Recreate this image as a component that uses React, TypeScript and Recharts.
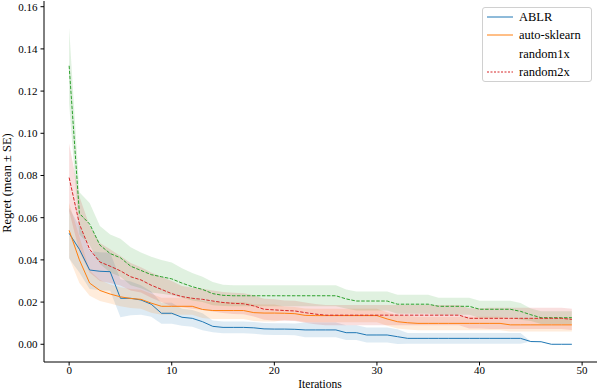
import React from 'react';
import { ComposedChart, Line, Area, XAxis, YAxis, Label } from 'recharts';

// iterations 0..49
const iterations: number[] = Array.from({ length: 50 }, (_, i) => i);

// ABLR mean regret and standard error
const ablr = [
  0.0526, 0.045, 0.0352, 0.0346, 0.0344, 0.0218, 0.0218, 0.021, 0.019, 0.0147,
  0.0147, 0.0128, 0.0123, 0.0107, 0.0085, 0.008, 0.008, 0.008, 0.0078, 0.0073,
  0.0072, 0.0072, 0.0071, 0.0068, 0.0068, 0.0068, 0.0068, 0.0055, 0.0055, 0.0044,
  0.0044, 0.0044, 0.0036, 0.0028, 0.0028, 0.0028, 0.0028, 0.0028, 0.0028, 0.0028,
  0.0028, 0.0028, 0.0028, 0.0028, 0.0028, 0.0013, 0.0012, 0.0, 0.0, 0.0,
];
const ablrSe = [
  0.012, 0.011, 0.009, 0.009, 0.009, 0.009, 0.008, 0.007, 0.006, 0.005,
  0.005, 0.004, 0.004, 0.004, 0.0028, 0.0028, 0.0028, 0.0028, 0.0028, 0.0028,
  0.0028, 0.0028, 0.0028, 0.0035, 0.0035, 0.0035, 0.0035, 0.0035, 0.0035, 0.0035,
  0.0035, 0.0035, 0.0035, 0.0025, 0.0025, 0.0025, 0.0025, 0.0025, 0.0025, 0.0025,
  0.0025, 0.0025, 0.0025, 0.0025, 0.0025, 0, 0, 0, 0, 0,
];

// auto-sklearn
const autoSklearn = [
  0.054, 0.04, 0.029, 0.0255, 0.0238, 0.0225, 0.0217, 0.0213, 0.0195, 0.018,
  0.018, 0.018, 0.018, 0.0165, 0.016, 0.016, 0.016, 0.016, 0.015, 0.0148,
  0.0148, 0.0147, 0.0145, 0.0137, 0.0136, 0.0136, 0.0136, 0.0136, 0.0136, 0.0136,
  0.0136, 0.012, 0.0107, 0.0102, 0.0099, 0.0099, 0.0099, 0.0099, 0.0099, 0.0099,
  0.0099, 0.0099, 0.0099, 0.0092, 0.0092, 0.0092, 0.0092, 0.0092, 0.0092, 0.0092,
];
const autoSklearnSe = [
  0.013, 0.011, 0.006, 0.005, 0.0045, 0.0045, 0.0045, 0.0045, 0.0045, 0.004,
  0.004, 0.004, 0.004, 0.004, 0.004, 0.004, 0.004, 0.004, 0.004, 0.004,
  0.004, 0.0032, 0.0032, 0.0032, 0.0032, 0.0032, 0.0032, 0.0032, 0.0032, 0.0032,
  0.0032, 0.0032, 0.0032, 0.0032, 0.0032, 0.0032, 0.0032, 0.0032, 0.0032, 0.0032,
  0.0032, 0.0032, 0.0032, 0.0032, 0.0032, 0.0032, 0.0032, 0.0032, 0.0032, 0.0032,
];

// random1x
const random1x = [
  0.132, 0.062, 0.057, 0.047, 0.043, 0.041, 0.037, 0.035, 0.033, 0.032,
  0.031, 0.029, 0.0273, 0.026, 0.024, 0.0232, 0.023, 0.023, 0.023, 0.023,
  0.023, 0.023, 0.023, 0.023, 0.023, 0.023, 0.023, 0.0215, 0.0205, 0.0205,
  0.0205, 0.0205, 0.019, 0.019, 0.019, 0.019, 0.018, 0.018, 0.018, 0.018,
  0.0166, 0.0166, 0.0166, 0.0166, 0.0156, 0.014, 0.0126, 0.0126, 0.0126, 0.0126,
];
const random1xSe = [
  0.018, 0.01, 0.01, 0.009, 0.009, 0.009, 0.009, 0.0085, 0.0085, 0.008,
  0.0078, 0.007, 0.0065, 0.006, 0.0055, 0.005, 0.005, 0.005, 0.005, 0.005,
  0.005, 0.005, 0.005, 0.005, 0.005, 0.005, 0.005, 0.0045, 0.0045, 0.0045,
  0.0045, 0.0045, 0.0045, 0.0045, 0.0045, 0.0045, 0.004, 0.004, 0.004, 0.004,
  0.004, 0.004, 0.004, 0.004, 0.004, 0.003, 0.003, 0.003, 0.003, 0.003,
];

// random2x
const random2x = [
  0.079, 0.057, 0.045, 0.039, 0.037, 0.0348, 0.032, 0.0305, 0.028, 0.026,
  0.024, 0.0226, 0.0218, 0.0213, 0.0205, 0.0198, 0.0194, 0.0192, 0.0182, 0.0166,
  0.0163, 0.016, 0.0158, 0.015, 0.0143, 0.0138, 0.0138, 0.0138, 0.0138, 0.0138,
  0.0138, 0.0138, 0.0138, 0.0138, 0.0138, 0.0138, 0.0138, 0.0138, 0.0138, 0.0123,
  0.0123, 0.0123, 0.0123, 0.0123, 0.0123, 0.0123, 0.0123, 0.0123, 0.0123, 0.0118,
];
const random2xSe = [
  0.016, 0.013, 0.011, 0.009, 0.008, 0.007, 0.0065, 0.006, 0.006, 0.006,
  0.006, 0.005, 0.005, 0.005, 0.005, 0.005, 0.005, 0.005, 0.005, 0.005,
  0.005, 0.0048, 0.0048, 0.0048, 0.0048, 0.0048, 0.0048, 0.0048, 0.0048, 0.0048,
  0.0048, 0.0048, 0.0048, 0.0048, 0.0048, 0.0048, 0.0048, 0.0048, 0.0048, 0.0048,
  0.0048, 0.005, 0.005, 0.005, 0.005, 0.005, 0.005, 0.005, 0.005, 0.005,
];

const xTicks = [0, 10, 20, 30, 40, 50];
const yTicks = [0, 0.02, 0.04, 0.06, 0.08, 0.1, 0.12, 0.14, 0.16];

const band = (m: number[], se: number[], i: number) => [m[i] - se[i], m[i] + se[i]];

const rows = iterations.map((it, i) => ({
  it,
  ablr: ablr[i],
  ablrBand: band(ablr, ablrSe, i),
  auto: autoSklearn[i],
  autoBand: band(autoSklearn, autoSklearnSe, i),
  r1: random1x[i],
  r1Band: band(random1x, random1xSe, i),
  r2: random2x[i],
  r2Band: band(random2x, random2xSe, i),
}));

const FONT = '"Liberation Serif", "DejaVu Serif", serif';
const BLUE = '#1f77b4';
const ORANGE = '#ff7f0e';
const GREEN = '#2ca02c';
const RED = '#d62728';

const legendItems = [
  { name: 'ABLR', color: BLUE, dash: undefined as string | undefined },
  { name: 'auto-sklearn', color: ORANGE, dash: undefined },
  { name: 'random1x', color: 'none', dash: undefined },
  { name: 'random2x', color: RED, dash: '2 1.5' },
];

const XLabel = () => (
  <text x={320} y={388} textAnchor="middle" fontFamily={FONT} fontSize={11.5} fill="#000">
    Iterations
  </text>
);

const YLabel = () => (
  <text
    x={11}
    y={183}
    transform="rotate(-90 11 183)"
    textAnchor="middle"
    fontFamily={FONT}
    fontSize={12.5}
    fill="#000"
  >
    Regret (mean ± SE)
  </text>
);

const tickStyle = { fontFamily: FONT, fontSize: 11, fill: '#000' };

export default function App() {
  return (
    <div style={{ position: 'absolute', left: 0, top: 0, width: 598, height: 390, background: '#fff' }}>
      <ComposedChart width={598} height={390} data={rows} margin={{ top: 1, right: 1, bottom: 0, left: 0 }}>
        <XAxis
          dataKey="it"
          type="number"
          domain={[-2.45, 51.45]}
          ticks={xTicks}
          allowDataOverflow
          interval={0}
          height={28}
          tickSize={3.5}
          tickMargin={1}
          stroke="#000"
          tick={tickStyle}
        >
          <Label content={XLabel} />
        </XAxis>
        <XAxis
          xAxisId="top"
          orientation="top"
          dataKey="it"
          type="number"
          domain={[-2.45, 51.45]}
          height={0}
          tick={false}
          tickLine={false}
          stroke="#000"
        />
        <YAxis
          type="number"
          domain={[-0.0084, 0.1627]}
          ticks={yTicks}
          allowDataOverflow
          interval={0}
          width={44}
          tickSize={3.5}
          tickMargin={3}
          stroke="#000"
          tick={tickStyle}
          tickFormatter={(v: number) => v.toFixed(2)}
        >
          <Label content={YLabel} />
        </YAxis>
        <YAxis
          yAxisId="right"
          orientation="right"
          type="number"
          domain={[-0.0084, 0.1627]}
          width={0}
          tick={false}
          tickLine={false}
          stroke="#000"
        />

        <Area dataKey="ablrBand" type="linear" stroke="none" fill={BLUE} fillOpacity={0.15} isAnimationActive={false} activeDot={false} />
        <Line dataKey="ablr" type="linear" stroke={BLUE} strokeWidth={1} dot={false} isAnimationActive={false} />
        <Area dataKey="autoBand" type="linear" stroke="none" fill={ORANGE} fillOpacity={0.15} isAnimationActive={false} activeDot={false} />
        <Line dataKey="auto" type="linear" stroke={ORANGE} strokeWidth={1} dot={false} isAnimationActive={false} />
        <Area dataKey="r1Band" type="linear" stroke="none" fill={GREEN} fillOpacity={0.15} isAnimationActive={false} activeDot={false} />
        <Line dataKey="r1" type="linear" stroke={GREEN} strokeWidth={1} strokeDasharray="3.5 1.5" dot={false} isAnimationActive={false} />
        <Area dataKey="r2Band" type="linear" stroke="none" fill={RED} fillOpacity={0.15} isAnimationActive={false} activeDot={false} />
        <Line dataKey="r2" type="linear" stroke={RED} strokeWidth={1} strokeDasharray="3.5 1.5" dot={false} isAnimationActive={false} />
      </ComposedChart>

      <div
        style={{
          position: 'absolute',
          left: 482,
          top: 7,
          width: 108,
          height: 73,
          border: '1px solid #d0d0d0',
          borderRadius: 3,
          background: 'rgba(255,255,255,0.8)',
          fontFamily: FONT,
          fontSize: 12.5,
          color: '#000',
        }}
      >
        {legendItems.map((item) => (
          <div key={item.name} style={{ display: 'flex', alignItems: 'center', height: 18.3 }}>
            <svg width={36} height={10} style={{ flex: 'none' }}>
              {item.color !== 'none' && (
                <line x1={4} x2={30} y1={5} y2={5} stroke={item.color} strokeWidth={1} strokeDasharray={item.dash} />
              )}
            </svg>
            <span style={{ lineHeight: '14px' }}>{item.name}</span>
          </div>
        ))}
      </div>
    </div>
  );
}
